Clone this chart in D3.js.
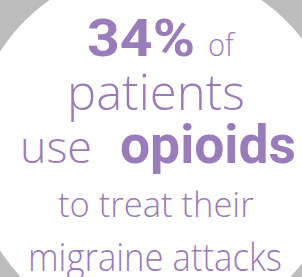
<!DOCTYPE html>
<html>
<head>
<meta charset="utf-8">
<script src="https://cdn.jsdelivr.net/npm/d3@7"></script>
<style>
    html, body { margin: 0; padding: 0; background: #bcbcbc; overflow: hidden; }
</style>
</head>
<body>
<svg id="Graph"></svg>
<script>
// values
const percentValue = 34;
const segmentTexts = ["34%", "of", "patients", "use", "opioids", "to treat their", "migraine attacks"];
const segmentBold = [true, false, false, false, true, false, false];

// layout (left, right, baseline, size) for each segment
const segLeft = [87, 208, 67, 20, 120, 58, 28];
const segRight = [195, 236, 245, 92, 296, 254, 282];
const segBase = [56, 56, 110, 163, 163, 217, 271];
const segSize = [52, 32, 49, 45, 53, 35, 39];

const w = 302;
const h = 277;
const purple = "#9a7bbb";

let svg = d3.select("#Graph")
    .attr("width", w)
    .attr("height", h);

// 背景
svg.append("rect")
    .attr("width", w)
    .attr("height", h)
    .attr("fill", "#bcbcbc");

// 白い円
svg.append("circle")
    .attr("cx", 155.5)
    .attr("cy", 151)
    .attr("r", 184.5)
    .attr("fill", "#ffffff");

// 文字
const dataset = segmentTexts.map(function (t, i) {
    return { text: t, bold: segmentBold[i], i: i };
});
dataset[0].text = percentValue + "%";

svg.selectAll("text.seg")
    .data(dataset)
    .enter()
    .append("text")
    .attr("class", "seg")
    .text(function (d) { return d.text; })
    .attr("x", 0)
    .attr("y", 0)
    .attr("font-family", function (d) { return d.bold ? "Roboto, sans-serif" : "'Open Sans', sans-serif"; })
    .attr("font-size", function (d) { return segSize[d.i] + "px"; })
    .attr("font-weight", function (d) { return d.bold ? 700 : 300; })
    .attr("fill", purple)
    .attr("transform", function (d) {
        // 幅を合わせる
        const box = this.getBBox();
        const sx = (segRight[d.i] - segLeft[d.i]) / box.width;
        return "translate(" + (segLeft[d.i] - box.x * sx) + "," + segBase[d.i] + ") scale(" + sx + ",1)";
    });
</script>
</body>
</html>
